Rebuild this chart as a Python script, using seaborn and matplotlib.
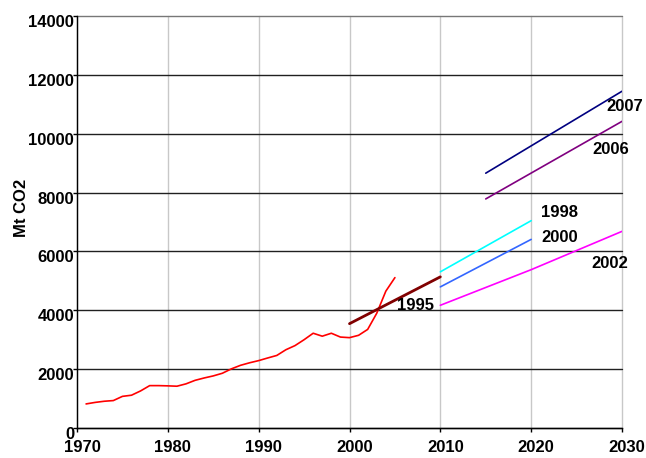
import matplotlib
matplotlib.use("Agg")
import matplotlib.pyplot as plt
import matplotlib.transforms as mtransforms
import seaborn as sns
import pandas as pd

# ---- data ----
hist_years = list(range(1971, 2006))
hist_values = [818, 870, 909, 932, 1075, 1114, 1260, 1440, 1440, 1432,
               1420, 1500, 1620, 1700, 1770, 1860, 2010, 2130, 2216, 2290,
               2380, 2466, 2660, 2800, 3000, 3220, 3120, 3220, 3090, 3070,
               3150, 3350, 3900, 4650, 5110]

proj_names = ["1995", "1998", "2000", "2002", "2006", "2007"]
proj_years = {
    "1995": [2000, 2010],
    "1998": [2010, 2020],
    "2000": [2010, 2020],
    "2002": [2010, 2020, 2030],
    "2006": [2015, 2030],
    "2007": [2015, 2030],
}
proj_values = {
    "1995": [3545, 5136],
    "1998": [5307, 7045],
    "2000": [4795, 6409],
    "2002": [4170, 5380, 6682],
    "2006": [7784, 10420],
    "2007": [8659, 11443],
}
proj_colors = {
    "1995": "#800000",
    "1998": "#00FFFF",
    "2000": "#3366FF",
    "2002": "#FF00FF",
    "2006": "#800080",
    "2007": "#000080",
}
label_pos = {
    "1995": (2007.3, 4169),
    "1998": (2023.1, 7329),
    "2000": (2023.1, 6480),
    "2002": (2028.6, 5597),
    "2006": (2028.8, 9470),
    "2007": (2030.35, 10931),
}
x_ticks = [1970, 1980, 1990, 2000, 2010, 2020, 2030]
y_ticks = [0, 2000, 4000, 6000, 8000, 10000, 12000, 14000]
y_label = "Mt CO2"

# ---- style ----
sns.set_style("white")
plt.rcParams["font.family"] = ["Liberation Sans", "DejaVu Sans"]
plt.rcParams["font.weight"] = "bold"
plt.rcParams["text.color"] = "black"
plt.rcParams["axes.labelcolor"] = "black"
plt.rcParams["xtick.color"] = "black"
plt.rcParams["ytick.color"] = "black"

fig = plt.figure(figsize=(6.46, 4.58), dpi=100)
ax = fig.add_axes([77/646, 1 - 428/458, 545/646, 412/458])

hist_df = pd.DataFrame({"year": hist_years, "value": hist_values})
sns.lineplot(data=hist_df, x="year", y="value", color="#FF0000", lw=1.2, ax=ax)

for name in proj_names:
    df = pd.DataFrame({"year": proj_years[name], "value": proj_values[name]})
    lw = 2.0 if name == "1995" else 1.2
    sns.lineplot(data=df, x="year", y="value", color=proj_colors[name], lw=lw, ax=ax)
    lx, ly = label_pos[name]
    ax.text(lx, ly, name, ha="center", va="center", fontsize=12,
            fontweight="bold", color="black", clip_on=False)

ax.set_xlim(1970, 2030)
ax.set_ylim(0, 14000)
ax.set_xticks(x_ticks)
ax.set_yticks(y_ticks)
ax.set_xticklabels([str(t) for t in x_ticks], fontsize=12, fontweight="bold", color="black")
ax.set_yticklabels([str(t) for t in y_ticks], fontsize=12, fontweight="bold", color="black")
ax.set_xlabel("")
ax.set_ylabel(y_label, fontsize=12, fontweight="bold", color="black")
ax.yaxis.set_label_coords(-0.088, 0.535)

ax.set_axisbelow(True)
ax.xaxis.grid(True, color="#c8c8c8", lw=1.0)
ax.yaxis.grid(True, color="#202020", lw=1.0)
for g in ax.get_xgridlines() + ax.get_ygridlines():
    g.set_clip_on(False)
ax.get_ygridlines()[-1].set_color("#777777")

for s in ["top", "right"]:
    ax.spines[s].set_visible(False)
for s in ["left", "bottom"]:
    ax.spines[s].set_color("black")
    ax.spines[s].set_linewidth(1.0)

ax.tick_params(axis="x", direction="out", length=3, width=1, color="black", pad=6)
ax.tick_params(axis="y", direction="out", length=3, width=1, color="black", pad=-1)
ax.xaxis.set_tick_params(bottom=True)
ax.yaxis.set_tick_params(left=True)

offx = mtransforms.ScaledTranslation(5/100, 0, fig.dpi_scale_trans)
for lab in ax.get_xticklabels():
    lab.set_transform(lab.get_transform() + offx)
offy = mtransforms.ScaledTranslation(0, -5/100, fig.dpi_scale_trans)
for lab in ax.get_yticklabels():
    lab.set_transform(lab.get_transform() + offy)

fig.savefig("out.png", dpi=100)
